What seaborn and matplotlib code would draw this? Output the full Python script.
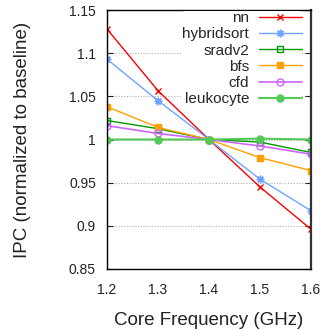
import matplotlib
matplotlib.use("Agg")
import matplotlib.pyplot as plt
from matplotlib.ticker import FuncFormatter
import seaborn as sns
import pandas as pd

freqs = [1.2, 1.3, 1.4, 1.5, 1.6]
nn = [1.128, 1.0565, 1.0, 0.945, 0.896]
hybridsort = [1.093, 1.045, 1.0, 0.954, 0.9175]
sradv2 = [1.022, 1.0125, 1.0, 0.997, 0.985]
bfs = [1.038, 1.014, 1.0, 0.979, 0.964]
cfd = [1.016, 1.007, 1.0, 0.9925, 0.983]
leukocyte = [1.0, 1.0, 1.0, 1.001, 1.0]

series = [
    ("nn", nn, "#ff0000", "x", True, 1.0, 5),
    ("hybridsort", hybridsort, "#6fa3ff", (8, 2, 0), True, 1.0, 5.5),
    ("sradv2", sradv2, "#009a00", "s", False, 1.0, 5),
    ("bfs", bfs, "#ffa000", "s", True, 1.0, 5),
    ("cfd", cfd, "#cc66ff", "o", False, 1.2, 5),
    ("leukocyte", leukocyte, "#55c855", "o", True, 1.5, 5),
]

sns.set_style("ticks")
plt.rcParams["font.family"] = ["Liberation Sans", "DejaVu Sans"]

fig = plt.figure(figsize=(3.21, 3.30), dpi=100)
ax = fig.add_axes([107 / 321, 1 - 269 / 330, (311 - 107) / 321, (269 - 10) / 330])

for name, vals, color, marker, filled, lw, ms in series:
    df = pd.DataFrame({"freq": freqs, "ipc": vals})
    kw = dict(markerfacecolor=color if filled else "none", markeredgecolor=color)
    sns.lineplot(data=df, x="freq", y="ipc", ax=ax, color=color, marker=marker,
                 markersize=ms, linewidth=lw, label=name, markeredgewidth=1.0, **kw)

ax.set_xlim(1.2, 1.6)
ax.set_ylim(0.85, 1.15)
ax.set_xticks(freqs)
ax.set_yticks([0.85, 0.9, 0.95, 1.0, 1.05, 1.1, 1.15])
fmt = FuncFormatter(lambda v, p: "%g" % round(v, 4))
ax.xaxis.set_major_formatter(fmt)
ax.yaxis.set_major_formatter(fmt)
ax.tick_params(axis="both", direction="in", length=4, labelsize=10, colors="#222222",
               pad=8)
ax.tick_params(axis="x", pad=10)
ax.tick_params(axis="y", right=True)
ax.tick_params(axis="x", top=False, bottom=False)
ax.yaxis.grid(True, linestyle=(0, (1, 1.5)), color="#b0b0b0", linewidth=0.8)
ax.set_axisbelow(True)
for s in ax.spines.values():
    s.set_color("black")
    s.set_linewidth(1.0)
ax.spines["right"].set_color("#333333")
ax.spines["right"].set_linewidth(1.6)

ax.set_xlabel("Core Frequency (GHz)", fontsize=13.5, color="#222222", labelpad=11)
ax.set_ylabel("IPC (normalized to baseline)", fontsize=13.5, color="#222222", labelpad=27)

leg = ax.legend(loc="upper right", bbox_to_anchor=(0.955, 0.995), markerfirst=False,
                fontsize=11, handlelength=2.8, frameon=True, facecolor="white",
                edgecolor="none", framealpha=1, borderaxespad=0, labelspacing=0.14,
                handletextpad=0.65, borderpad=0.0)

fig.savefig("out.png", dpi=100)
